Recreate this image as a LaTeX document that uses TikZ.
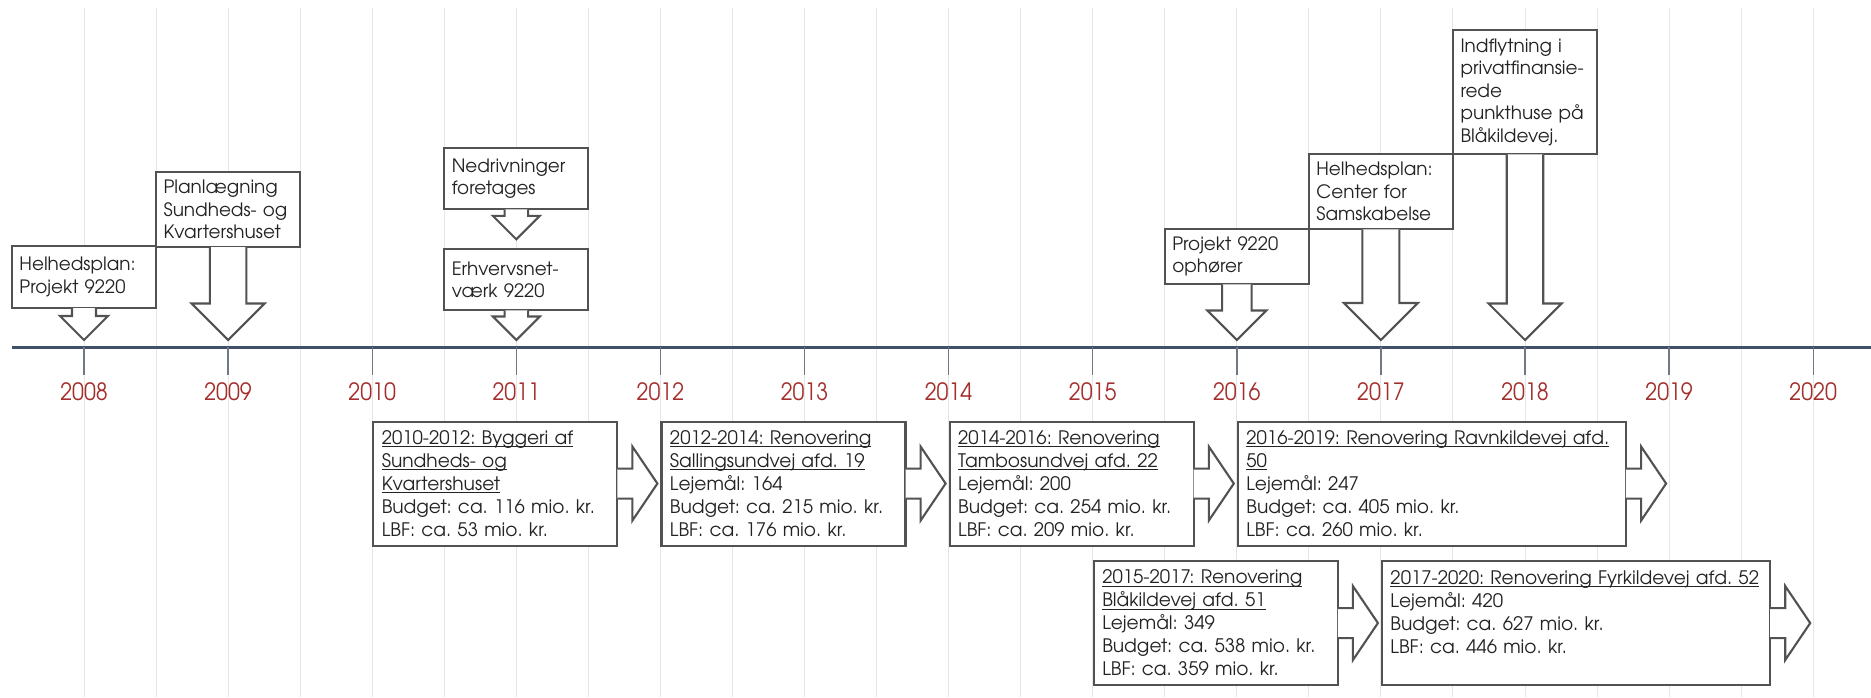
\documentclass[tikz,border=0pt]{standalone}
\usepackage{fontspec}
\setmainfont{TeX Gyre Adventor}
\newfontfamily\yearfont[FakeStretch=0.9]{TeX Gyre Adventor}
\usepackage{tikz}
\usetikzlibrary{calc,positioning}

\definecolor{axisblue}{RGB}{64,80,104}
\definecolor{tickgray}{RGB}{112,120,134}
\definecolor{yearred}{RGB}{163,46,44}
\definecolor{boxgray}{RGB}{82,82,82}
\definecolor{txtgray}{RGB}{35,35,35}
\definecolor{gridgray}{RGB}{230,230,230}

% underline with a heavier rule
\newcommand{\ulin}[1]{\leavevmode\setbox0\hbox{#1}\rlap{\rule[-3pt]{\wd0}{1.1pt}}\box0}

% box with arrow pointing down to the time line
\newcommand{\downcall}[3]{%
  \draw[calloutline] ($(#2 |- #1.south)+(-#3/2,-1)$) |- ($(#2)+(-#3,-#3)$) -- (#2)
    -- ($(#2)+(#3,-#3)$) -| ($(#2 |- #1.south)+(#3/2,-1)$);}

% box with arrow pointing right to the end year
\newcommand{\rightcall}[2]{%
  \coordinate (#1tip) at ($(#2 |- #1.east)+(-3,0)$);
  \draw[calloutline] ($(#1.east)+(-1,-15)$) -- ($(#1tip)+(-25,-15)$) -- ($(#1tip)+(-25,-37)$)
    -- (#1tip) -- ($(#1tip)+(-25,37)$) -- ($(#1tip)+(-25,15)$) -- ($(#1.east)+(-1,15)$);}

\begin{document}
\frenchspacing
\begin{tikzpicture}[x=1pt,y=-1pt,
  gridline/.style={draw=gridgray,line width=1pt},
  axisline/.style={draw=axisblue,line width=3pt},
  yeartick/.style={draw=tickgray,line width=1.4pt},
  yearlbl/.style={text=yearred,font=\yearfont\fontsize{23.8}{26}\selectfont,inner sep=0pt},
  calloutline/.style={draw=boxgray,line width=2.1pt,fill=white},
  topbox/.style={rectangle,draw=boxgray,line width=2.1pt,fill=white,text=txtgray,
    font=\fontsize{18.4}{22.5}\selectfont,align=left,text width=129pt,
    inner xsep=7.5pt,inner ysep=0pt,anchor=north},
  botbox/.style={topbox,font=\fontsize{18.6}{23}\selectfont,inner xsep=8.5pt,
    minimum height=124pt,anchor=north west}]

\fill[white] (0,0) rectangle (1871,697);
\useasboundingbox (0,0) rectangle (1871,697);

% half year grid
\foreach \k in {0,...,24}
  \draw[gridline] (84+72.05*\k,8) -- (84+72.05*\k,697);

% time line
\coordinate (axL) at (12,347);
\coordinate (axR) at (1871,347);
\draw[axisline] (axL) -- (axR);
\foreach \yr [count=\i from 0] in {2008,...,2020} {
  \coordinate (t\yr) at (84+144.1*\i,347);
  \coordinate (p\yr) at (84+144.1*\i,340);
  \draw[yeartick] (t\yr) -- ++(0,28);
  \node[yearlbl] (lbl\yr) at (84+144.1*\i,392) {\yr};
}

% events above the line
\node[topbox,minimum height=62pt] (helh) at (84,245) {Helhedsplan:\\Projekt 9220};
\node[topbox,minimum height=75.3pt] (plan) at (228.1,170.7) {Planlægning\\Sundheds- og\\Kvartershuset};
\node[topbox,minimum height=61.6pt] (nedr) at (516.3,146.7) {Nedrivninger\\foretages};
\node[topbox,minimum height=61pt] (erhv) at (516.3,248.3) {Erhvervsnet-\\værk 9220};
\node[topbox,minimum height=55.6pt] (ophr) at (1236.8,227.7) {Projekt 9220\\ophører};
\node[topbox,minimum height=75.6pt] (samsk) at (1380.9,152.7) {Helhedsplan:\\Center for\\Samskabelse};
\node[topbox,minimum height=124pt] (indfl) at (1525,29.3) {Indflytning i\\privatfinansie-\\rede\\punkthuse på\\Blåkildevej.};

\coordinate (pErhv) at ($(erhv.north)+(0,-9)$);
\downcall{helh}{p2008}{24}
\downcall{plan}{p2009}{36.5}
\downcall{nedr}{pErhv}{23.5}
\downcall{erhv}{p2011}{23.5}
\downcall{ophr}{p2016}{29.5}
\downcall{samsk}{p2017}{37}
\downcall{indfl}{p2018}{36.5}

% projects below the line
\node[botbox,text width=227pt] (bygg) at (372.2,420.5) {\ulin{2010-2012: Byggeri af}\\\ulin{Sundheds- og}\\\ulin{Kvartershuset}\\Budget: ca. 116 mio. kr.\\LBF: ca. 53 mio. kr.};
\node[botbox,text width=227pt] (sall) at (660.4,420.5) {\ulin{2012-2014: Renovering}\\\ulin{Sallingsundvej afd. 19}\\Lejemål: 164\\Budget: ca. 215 mio. kr.\\LBF: ca. 176 mio. kr.};
\node[botbox,text width=227pt] (tamb) at (948.6,420.5) {\ulin{2014-2016: Renovering}\\\ulin{Tambosundvej afd. 22}\\Lejemål: 200\\Budget: ca. 254 mio. kr.\\LBF: ca. 209 mio. kr.};
\node[botbox,text width=371pt] (ravn) at (1236.8,420.5) {\ulin{2016-2019: Renovering Ravnkildevej afd.}\\\ulin{50}\\Lejemål: 247\\Budget: ca. 405 mio. kr.\\LBF: ca. 260 mio. kr.};
\node[botbox,text width=227pt] (blaa) at (1092.7,560) {\ulin{2015-2017: Renovering}\\\ulin{Blåkildevej afd. 51}\\Lejemål: 349\\Budget: ca. 538 mio. kr.\\LBF: ca. 359 mio. kr.};
\node[botbox,text width=371pt] (fyrk) at (1380.9,560) {\ulin{2017-2020: Renovering Fyrkildevej afd. 52}\\Lejemål: 420\\Budget: ca. 627 mio. kr.\\LBF: ca. 446 mio. kr.\\\mbox{}};

\rightcall{bygg}{t2012}
\rightcall{sall}{t2014}
\rightcall{tamb}{t2016}
\rightcall{ravn}{t2019}
\rightcall{blaa}{t2017}
\rightcall{fyrk}{t2020}
\end{tikzpicture}
\end{document}
